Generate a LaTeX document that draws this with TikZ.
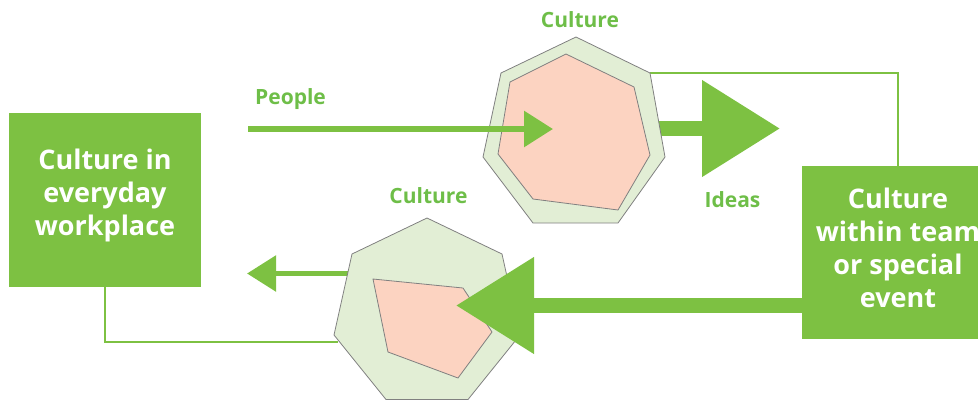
\documentclass[tikz,border=0pt]{standalone}
\usepackage{fontspec}
\setmainfont{Open Sans}
\usetikzlibrary{arrows.meta}

\definecolor{leafgreen}{RGB}{125,193,66}
\definecolor{wordgreen}{RGB}{110,190,72}
\definecolor{paleleaf}{RGB}{226,238,213}
\definecolor{peach}{RGB}{252,211,193}
\definecolor{rimgray}{RGB}{128,128,128}

\begin{document}
\begin{tikzpicture}[x=1pt, y=-1pt,
        greenbox/.style={fill=leafgreen, inner sep=0pt},% filled square
        boxtext/.style={text=white, align=center, font=\fontsize{27}{33}\selectfont\bfseries},% white words in a square
        greenword/.style={text=wordgreen, anchor=base, font=\fontsize{21}{25}\selectfont\bfseries},% green caption
        link/.style={draw=leafgreen, line width=1.5pt},% thin joining line
        outerhept/.style={fill=paleleaf, draw=rimgray, line width=0.8pt},% pale polygon
        innerhept/.style={fill=peach, draw=rimgray, line width=0.8pt},% peach polygon
        thinarrow/.style={draw=leafgreen, line width=6pt, -{Triangle[length=29pt, width=35pt, fill=leafgreen]}},
        fatarrow/.style={draw=leafgreen, line width=15pt, -{Triangle[length=78pt, width=93pt, fill=leafgreen]}},
    ]
    \useasboundingbox (0,0) rectangle (978,402);

    % squares
    \node [greenbox, minimum width=192pt, minimum height=174pt,
        label={[boxtext, yshift=5pt]center:Culture in\\everyday\\workplace}] (workplace) at (105,200) {};
    \node [greenbox, minimum width=192pt, minimum height=173pt,
        label={[boxtext, yshift=5pt]center:Culture\\within team\\or special\\event}] (teamEvent) at (898,252.5) {};

    % joining lines
    \coordinate (upperJoin) at (650,73);
    \coordinate (lowerJoin) at (338,342);
    \draw [link] (teamEvent.north) |- (upperJoin);
    \draw [link] (workplace.south) |- (lowerJoin);

    % arrow ends
    \coordinate (ideasStart) at (655,128.5);
    \coordinate (ideasTip) at (780,128.5);
    \coordinate (peopleStart) at (248,129);
    \coordinate (peopleTip) at (553,129);
    \coordinate (backTip) at (456,305.5);
    \coordinate (outStart) at (348,273.5);
    \coordinate (outTip) at (247,273.5);

    \draw [fatarrow] (ideasStart) -- (ideasTip);
    \draw [thinarrow, line width=5.5pt] (outStart) -- (outTip);

    % upper culture
    \draw [outerhept] (576,37) -- (650,73) -- (665,157) -- (618,223) -- (533,223) -- (483,157) -- (501,73) -- cycle;
    \draw [innerhept] (566,54) -- (634,87) -- (650,155) -- (618,210) -- (533,199) -- (498,154) -- (510,82) -- cycle;

    % lower culture
    \draw [outerhept] (427,218) -- (502,254) -- (520,335) -- (468,399.5) -- (386,399.5) -- (334,335) -- (352,254) -- cycle;
    \draw [innerhept] (373,279) -- (463,288) -- (492,332) -- (458,378) -- (388,352) -- cycle;

    \draw [thinarrow] (peopleStart) -- (peopleTip);
    \draw [fatarrow] (teamEvent.west |- backTip) -- (backTip);

    % captions
    \node [greenword] (cultureTop) at (580,27) {Culture};
    \node [greenword] (cultureLow) at (428.5,203) {Culture};
    \node [greenword] (people) at (290.5,104) {People};
    \node [greenword] (ideas) at (732.5,207) {Ideas};
\end{tikzpicture}
\end{document}
